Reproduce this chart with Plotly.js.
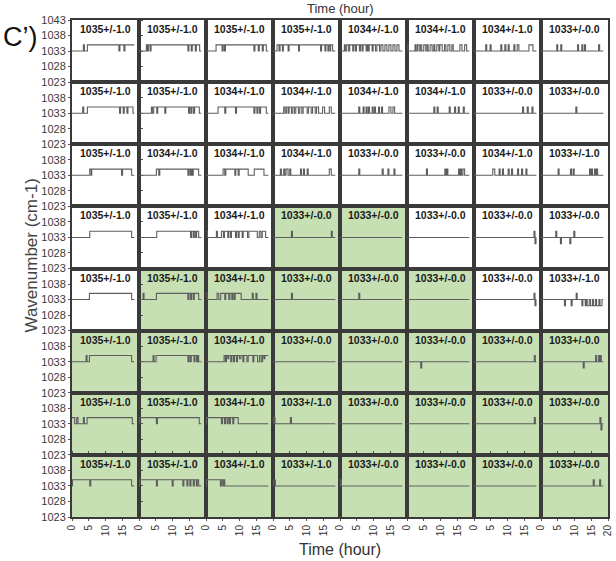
<!DOCTYPE html>
<html>
<head>
<meta charset="utf-8">
<script src="https://cdn.plot.ly/plotly-3.0.1.min.js"></script>
<style>html,body{margin:0;padding:0;background:#fff;}#chart{width:616px;height:561px;}</style>
</head>
<body>
<div id="chart"></div>
<script>
// Time axis
const timeTicks = [0, 5, 10, 15];
const timeTicksLast = [0, 5, 10, 15, 20];
const tEnd = 18.6;
// Wavenumber axis
const wnTicksTop = [1023, 1028, 1033, 1038, 1043];
const wnTicks = [1023, 1028, 1033, 1038];

// Each panel: [t0, v0, t1, v1, ...] step change points (hour, cm-1)
const row1 = [
  [0,1033, 3.4,1035, 3.7,1033, 4.6,1035, 14,1033, 14.3,1035, 15.5,1033, 15.8,1035],
  [0,1033, 2.2,1035, 2.5,1033, 2.8,1035, 3.3,1033, 3.6,1035, 14.6,1033, 14.9,1035, 15.6,1033, 15.9,1035, 16.8,1033, 17.1,1035, 18.1,1033],
  [0,1033, 3,1035, 4.8,1033, 5.1,1035, 5.5,1033, 5.8,1035, 14.3,1033, 14.6,1035, 15.6,1033, 15.9,1035, 16.8,1033, 17.1,1035, 18,1033],
  [0,1033, 1.2,1035, 1.8,1033, 2.1,1035, 2.8,1033, 3.1,1035, 4.5,1033, 4.8,1035, 7.6,1033, 7.9,1035, 14.2,1033, 14.5,1035, 15.5,1033, 15.8,1035, 16.4,1033, 16.6,1035, 17,1033, 17.2,1035, 17.8,1033],
  [0,1033, 1.3,1035, 1.6,1033, 2,1035, 2.6,1033, 2.9,1035, 3.8,1033, 4.1,1035, 4.6,1033, 4.9,1035, 5.8,1033, 6.1,1035, 6.6,1033, 6.9,1035, 7.8,1033, 8.1,1035, 8.4,1033, 8.7,1035, 9.6,1033, 9.9,1035, 10.6,1033, 11,1035, 11.8,1033, 12.2,1035, 12.8,1033, 13.4,1035, 14,1033, 14.6,1035, 15.2,1033, 15.8,1035, 16.4,1033, 17,1035, 17.6,1033],
  [0,1035, 0.3,1033, 2.4,1035, 2.7,1033, 3.1,1035, 3.6,1033, 4,1035, 4.4,1033, 5,1035, 5.6,1033, 6,1035, 6.3,1033, 6.9,1035, 7.5,1033, 8,1035, 8.3,1033, 8.9,1035, 9.5,1033, 9.8,1035, 10.5,1033, 11.2,1035, 11.6,1033, 12.2,1035, 12.8,1033, 13.4,1035, 13.8,1033, 15.8,1035, 16.4,1033, 17.2,1035, 17.8,1033],
  [0,1033, 3.5,1035, 3.8,1033, 4.8,1035, 5.1,1033, 8,1035, 8.3,1033, 9.2,1035, 9.5,1033, 10.2,1035, 10.5,1033, 11.9,1035, 12.2,1033, 12.9,1035, 13.4,1033, 16.4,1035, 17.6,1033],
  [0,1033, 4.7,1035, 5,1033, 5.9,1035, 6.2,1033, 10.9,1035, 11.2,1033, 12.2,1035, 12.5,1033, 13,1035, 13.3,1033, 17.2,1035, 17.5,1033]
];
const row2 = [
  [0,1033, 3.2,1035, 3.5,1033, 4.6,1035, 14.2,1033, 14.5,1035, 15.3,1033, 15.6,1035, 16.4,1033, 16.7,1035, 18.2,1033],
  [0,1033, 3.7,1035, 4,1033, 4.4,1035, 5.3,1033, 5.6,1035, 7.7,1033, 8,1035, 14.8,1033, 15.1,1035, 15.5,1033, 15.8,1035, 16.3,1033, 16.6,1035, 18,1033],
  [0,1033, 3.6,1035, 5.6,1033, 5.9,1035, 8.8,1033, 9.1,1035, 14.3,1033, 14.6,1035, 15.2,1033, 15.5,1035, 16,1033, 16.3,1035, 18,1033],
  [0,1033, 3.2,1035, 3.6,1033, 4,1035, 4.5,1033, 4.8,1035, 5.5,1033, 5.9,1035, 6.4,1033, 6.8,1035, 7.6,1033, 8,1035, 8.6,1033, 9,1035, 10.2,1033, 10.6,1035, 11.4,1033, 11.8,1035, 12.6,1033, 13,1035, 13.6,1033, 14.8,1035, 15.4,1033, 16.8,1035, 17.4,1033],
  [0,1033, 5.6,1035, 5.9,1033, 6.9,1035, 7.2,1033, 7.8,1035, 8.1,1033, 8.5,1035, 8.8,1033, 9.6,1035, 9.9,1033, 10.3,1035, 10.6,1033, 11.5,1035, 11.8,1033, 12.4,1035, 12.7,1033, 14.6,1035, 15.2,1033, 15.8,1035, 16.3,1033],
  [0,1033, 8,1035, 8.3,1033, 9,1035, 9.3,1033, 12.6,1035, 12.9,1033, 14.2,1035, 14.5,1033, 15.3,1035, 15.6,1033, 16.8,1035, 17.1,1033],
  [0,1033, 14.5,1035, 14.8,1033, 15.9,1035, 16.2,1033, 17.3,1035, 17.6,1033],
  [0,1033, 10.4,1035, 10.7,1033]
];
const row3 = [
  [0,1033, 5.3,1035, 5.7,1033, 5.9,1035, 14.8,1033, 15.1,1035, 17.8,1033],
  [0,1033, 5.2,1035, 5.9,1033, 6.2,1035, 14.6,1033, 14.9,1035, 15.3,1033, 15.6,1035, 15.9,1033, 16.2,1035, 17.8,1033],
  [0,1033, 5.1,1035, 5.6,1033, 5.9,1035, 8.6,1033, 8.9,1035, 9.6,1033, 9.9,1035, 12.6,1033, 14.4,1035, 17.3,1033],
  [0,1033, 2.2,1035, 2.5,1033, 3.2,1035, 3.5,1033, 3.9,1035, 4.5,1033, 5,1035, 5.3,1033, 8.2,1035, 8.5,1033, 9.1,1035, 9.4,1033, 10.2,1035, 10.5,1033, 16.8,1035, 17.4,1033],
  [0,1033, 5.6,1035, 5.9,1033, 12.6,1035, 12.9,1033, 14.3,1035, 14.6,1033, 16.1,1035, 16.4,1033],
  [0,1033, 5.8,1035, 6.1,1033, 11.3,1035, 11.6,1033, 11.9,1035, 12.2,1033, 15.4,1035, 15.7,1033, 16,1035, 16.3,1033, 16.7,1035, 17.2,1033],
  [0,1033, 5.6,1035, 6.2,1033, 7.5,1035, 7.8,1033, 8.5,1035, 8.8,1033, 10.2,1035, 10.5,1033, 11.2,1035, 11.5,1033, 13,1035, 13.3,1033, 14.2,1035, 14.5,1033, 15.5,1035, 15.8,1033],
  [0,1033, 5.1,1035, 5.4,1033, 8.8,1035, 9.1,1033, 9.6,1035, 9.9,1033, 14.5,1035, 14.8,1033, 15.1,1035, 15.4,1033, 16,1035, 16.3,1033, 16.6,1035, 16.9,1033]
];
const row4 = [
  [0,1033, 5.3,1035, 17.8,1033],
  [0,1033, 5.3,1035, 15.4,1033, 15.7,1035, 16.2,1033, 16.5,1035, 16.9,1033, 17.2,1035, 17.8,1033],
  [0,1035, 0.4,1033, 3.1,1035, 3.4,1033, 4.6,1035, 5.2,1033, 5.5,1035, 6.5,1033, 6.8,1035, 7.3,1033, 7.6,1035, 8.8,1033, 9.1,1035, 9.6,1033, 9.9,1035, 10.8,1033, 11.1,1035, 12.4,1033, 12.8,1035, 15.3,1033, 15.9,1035, 16.4,1033, 16.8,1035, 17.8,1033],
  [0,1033, 5.5,1035, 5.8,1033, 17.4,1035, 17.7,1033],
  [0,1033],
  [0,1033],
  [0,1033, 17.9,1035, 18.2,1031, 18.5,1033],
  [0,1033, 4.4,1035, 4.7,1033, 5.8,1031, 6.1,1033, 8.6,1031, 8.9,1033, 9.8,1035, 10.1,1033]
];
const row5 = [
  [0,1033, 5.2,1035, 17.8,1033],
  [0,1033, 1.2,1035, 1.5,1033, 5.2,1035, 14.6,1033, 14.9,1035, 15.4,1033, 15.7,1035, 16.2,1033, 16.5,1035, 17.8,1033],
  [0,1035, 0.3,1033, 3.3,1035, 3.8,1033, 4.4,1035, 5.6,1033, 5.9,1035, 6.8,1033, 7.1,1035, 7.7,1033, 8,1035, 8.4,1033, 8.7,1035, 10.5,1033, 13.8,1035, 14.1,1033, 14.9,1035, 15.2,1033],
  [0,1033, 5.5,1035, 5.8,1033],
  [0,1033, 5.6,1035, 5.9,1033],
  [0,1033],
  [0,1033, 17.9,1035, 18.2,1031, 18.5,1033],
  [0,1033, 7,1031, 7.3,1033, 9,1031, 9.3,1033, 10.5,1035, 10.8,1033, 12.2,1031, 12.5,1033, 13.2,1031, 13.5,1033, 13.8,1031, 14.4,1033, 14.8,1031, 15.4,1033, 15.7,1031, 16.3,1033, 16.6,1031, 17.3,1033, 17.6,1031, 18.2,1033]
];
const row6 = [
  [0,1033, 4.2,1035, 4.5,1033, 5.2,1035, 17.8,1033],
  [0,1033, 4.2,1035, 4.5,1033, 5.1,1035, 14.6,1033, 14.9,1035, 15.3,1033, 15.6,1035, 16.4,1033, 16.7,1035, 17.2,1033, 17.5,1035, 17.8,1033],
  [0,1033, 5.4,1035, 5.8,1033, 6.1,1035, 6.5,1034, 6.8,1035, 7.4,1033, 7.7,1035, 8.2,1033, 8.5,1035, 9.1,1033, 9.4,1035, 10,1034, 10.4,1035, 11,1033, 11.3,1035, 12.2,1033, 12.6,1035, 14,1033, 14.3,1035, 15.4,1033, 16,1035, 16.5,1033, 16.9,1035, 17.3,1034, 17.6,1035],
  [0,1033],
  [0,1033],
  [0,1033, 4.1,1031, 4.4,1033],
  [0,1033, 18,1035, 18.3,1033],
  [0,1033, 12.6,1031, 12.9,1033, 16.3,1035, 16.6,1033, 17.2,1035, 17.5,1033, 17.7,1035, 18,1033]
];
const row7 = [
  [0,1035, 0.8,1033, 1.4,1035, 1.8,1033, 3.4,1035, 3.7,1033, 4.5,1035, 18,1033],
  [0,1033, 0.15,1035, 5.2,1033, 5.5,1035, 18,1033],
  [0,1033, 0.15,1035, 4.6,1033, 4.9,1035, 5.5,1033, 5.8,1035, 6.3,1033, 6.6,1035, 7,1033, 7.3,1035, 8,1033, 8.3,1035, 9.6,1033],
  [0,1033, 0.15,1035, 0.6,1033, 5.2,1035, 5.5,1033],
  [0,1033],
  [0,1033],
  [0,1033, 18,1035, 18.3,1033],
  [0,1033, 17.6,1035, 17.9,1031, 18.2,1033]
];
const row8 = [
  [0,1033, 0.15,1035, 5.3,1033, 5.6,1035, 17.8,1033],
  [0,1033, 0.15,1035, 5.2,1033, 5.5,1035, 9.9,1033, 10.2,1035, 13.1,1033, 13.4,1035, 14.3,1033, 14.6,1035, 15.2,1033, 15.5,1035, 16.2,1033, 16.5,1035, 17.1,1033, 17.4,1035, 17.8,1033],
  [0,1033, 0.15,1035, 4.3,1033, 4.6,1035, 5,1033, 5.3,1035, 5.6,1033],
  [0,1033, 0.15,1035, 0.7,1033],
  [0,1033, 0.1,1035, 0.4,1033],
  [0,1033],
  [0,1033],
  [0,1033, 15.6,1035, 15.9,1033, 17.5,1035, 17.8,1033]
];

// Panel labels
const labels1 = ["1035+/-1.0","1035+/-1.0","1035+/-1.0","1035+/-1.0","1034+/-1.0","1034+/-1.0","1034+/-1.0","1033+/-0.0"];
const labels2 = ["1035+/-1.0","1035+/-1.0","1034+/-1.0","1034+/-1.0","1034+/-1.0","1034+/-1.0","1033+/-0.0","1033+/-0.0"];
const labels3 = ["1035+/-1.0","1034+/-1.0","1034+/-1.0","1034+/-1.0","1033+/-0.0","1033+/-0.0","1034+/-1.0","1033+/-1.0"];
const labels4 = ["1035+/-1.0","1035+/-1.0","1034+/-1.0","1033+/-0.0","1033+/-0.0","1033+/-0.0","1033+/-0.0","1033+/-0.0"];
const labels5 = ["1035+/-1.0","1035+/-1.0","1034+/-1.0","1033+/-0.0","1033+/-0.0","1033+/-0.0","1033+/-0.0","1033+/-1.0"];
const labels6 = ["1035+/-1.0","1035+/-1.0","1034+/-1.0","1033+/-0.0","1033+/-0.0","1033+/-0.0","1033+/-0.0","1033+/-0.0"];
const labels7 = ["1035+/-1.0","1035+/-1.0","1034+/-1.0","1033+/-1.0","1033+/-0.0","1033+/-0.0","1033+/-0.0","1033+/-0.0"];
const labels8 = ["1035+/-1.0","1035+/-1.0","1034+/-1.0","1033+/-1.0","1033+/-0.0","1033+/-0.0","1033+/-0.0","1033+/-0.0"];

// Highlighted panels (1 = shaded)
const shade1 = [0,0,0,0,0,0,0,0];
const shade2 = [0,0,0,0,0,0,0,0];
const shade3 = [0,0,0,0,0,0,0,0];
const shade4 = [0,0,0,1,1,0,0,0];
const shade5 = [0,1,1,1,1,1,0,0];
const shade6 = [1,1,1,1,1,1,1,1];
const shade7 = [1,1,1,1,1,1,1,1];
const shade8 = [1,1,1,1,1,1,1,1];

const rows = [row1,row2,row3,row4,row5,row6,row7,row8];
const labels = [labels1,labels2,labels3,labels4,labels5,labels6,labels7,labels8];
const shades = [shade1,shade2,shade3,shade4,shade5,shade6,shade7,shade8];

const N = 8;
const FONT = "Liberation Sans, Arial, Helvetica, sans-serif";
const traces = [];
const shapes = [];
const annotations = [];
const layout = {
  width: 616, height: 561,
  margin: {l: 72, r: 8, t: 20, b: 44, pad: 0},
  paper_bgcolor: "#ffffff", plot_bgcolor: "#ffffff",
  showlegend: false,
  font: {family: FONT, color: "#333"}
};

function axId(i) { return i === 0 ? "" : String(i + 1); }

for (let c = 0; c < N; c++) {
  layout["xaxis" + axId(c)] = {
    domain: [c / N, (c + 1) / N],
    range: [0, 20],
    anchor: "y8",
    tickmode: "array",
    tickvals: c === N - 1 ? timeTicksLast : timeTicks,
    ticktext: (c === N - 1 ? timeTicksLast : timeTicks).map(String),
    tickangle: -90,
    tickfont: {size: 10, color: "#333", family: FONT},
    ticks: "outside", ticklen: 2, tickcolor: "#555",
    showline: true, linecolor: "#3a3a3a", linewidth: 2, mirror: "all",
    showgrid: false, zeroline: false, fixedrange: true
  };
}
for (let r = 0; r < N; r++) {
  layout["yaxis" + axId(r)] = {
    domain: [1 - (r + 1) / N, 1 - r / N],
    range: [1023, 1043],
    anchor: "x",
    tickmode: "array",
    tickvals: r === 0 ? wnTicksTop : wnTicks,
    ticktext: (r === 0 ? wnTicksTop : wnTicks).map(String),
    tickfont: {size: 11, color: "#3a3a3a", family: FONT},
    ticks: "outside", ticklen: 2, tickcolor: "#555",
    showline: true, linecolor: "#3a3a3a", linewidth: 2, mirror: "all",
    showgrid: false, zeroline: false, fixedrange: true
  };
}

for (let r = 0; r < N; r++) {
  for (let c = 0; c < N; c++) {
    const p = rows[r][c];
    const xs = [], ys = [];
    for (let i = 0; i < p.length; i += 2) { xs.push(p[i]); ys.push(p[i + 1]); }
    xs.push(tEnd); ys.push(ys[ys.length - 1]);
    const xa = "x" + axId(c), ya = "y" + axId(r);
    traces.push({
      type: "scatter", mode: "lines", x: xs, y: ys,
      xaxis: xa, yaxis: ya,
      line: {shape: "hv", color: "#5e5e5e", width: 1.1},
      hoverinfo: "skip"
    });
    if (shades[r][c]) {
      shapes.push({
        type: "rect", xref: xa + " domain", yref: ya + " domain",
        x0: 0, x1: 1, y0: 0, y1: 1,
        fillcolor: "#c6e0b4", line: {width: 0}, layer: "below"
      });
    }
    annotations.push({
      text: "<b>" + labels[r][c] + "</b>",
      xref: xa + " domain", yref: ya + " domain",
      x: 0.5, y: 1, xanchor: "center", yanchor: "top", yshift: -1,
      showarrow: false,
      font: {size: 10.5, color: "#1a1a1a", family: FONT}
    });
  }
}

// Titles
annotations.push({
  text: "Time (hour)", xref: "paper", yref: "paper",
  x: 0.5, y: (517 - 549) / 497, xanchor: "center", yanchor: "middle",
  showarrow: false, font: {size: 16, color: "#333", family: FONT}
});
annotations.push({
  text: "Time (hour)", xref: "paper", yref: "paper",
  x: 0.5, y: (517 - 8) / 497, xanchor: "center", yanchor: "middle",
  showarrow: false, font: {size: 13, color: "#333", family: FONT}
});
annotations.push({
  text: "Wavenumber (cm-1)", xref: "paper", yref: "paper",
  x: (30.5 - 72) / 536, y: (517 - 256) / 497, xanchor: "center", yanchor: "middle",
  textangle: -90,
  showarrow: false, font: {size: 17, color: "#444", family: FONT}
});
annotations.push({
  text: "C\u2019)", xref: "paper", yref: "paper",
  x: (20 - 72) / 536, y: (517 - 37) / 497, xanchor: "center", yanchor: "middle",
  showarrow: false, font: {size: 27, color: "#111", family: FONT}
});

layout.shapes = shapes;
layout.annotations = annotations;

Plotly.newPlot("chart", traces, layout, {displayModeBar: false, staticPlot: true});
</script>
</body>
</html>
